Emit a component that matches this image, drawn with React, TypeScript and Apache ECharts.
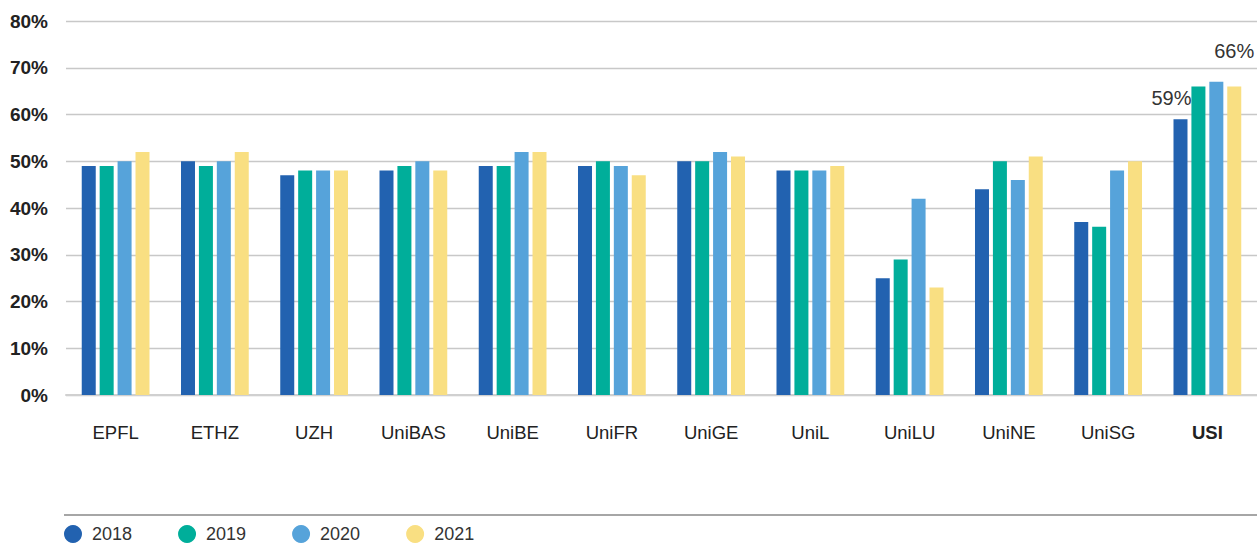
import React, { useEffect, useRef } from "react";
import * as echarts from "echarts";

const categories = ["EPFL", "ETHZ", "UZH", "UniBAS", "UniBE", "UniFR", "UniGE", "UniL", "UniLU", "UniNE", "UniSG", "USI"];
const years = ["2018", "2019", "2020", "2021"];
const v2018 = [49, 50, 47, 48, 49, 49, 50, 48, 25, 44, 37, 59];
const v2019 = [49, 49, 48, 49, 49, 50, 50, 48, 29, 50, 36, 66];
const v2020 = [50, 50, 48, 50, 52, 49, 52, 48, 42, 46, 48, 67];
const v2021 = [52, 52, 48, 48, 52, 47, 51, 49, 23, 51, 50, 66];
const colors = ["#2262b0", "#00ae9a", "#56a3da", "#f9df82"];
const yTicks = [0, 10, 20, 30, 40, 50, 60, 70, 80];

const FONT = "'Liberation Sans', Arial, Helvetica, sans-serif";

export default function App() {
  const ref = useRef<HTMLDivElement>(null);
  useEffect(() => {
    if (!ref.current) return;
    const chart = echarts.init(ref.current, null, { renderer: "svg" });
    const all = [v2018, v2019, v2020, v2021];
    const labelFor = (si: number) => {
      if (si === 0) return { show: true, position: "top", offset: [-9, -6], formatter: "{c}%" };
      if (si === 3) return { show: true, position: "top", offset: [0, -20], formatter: "{c}%" };
      return null;
    };
    const series = years.map((y, si) => ({
      name: y,
      type: "bar",
      barWidth: 14,
      barGap: "28%",
      itemStyle: { color: colors[si] },
      data: all[si].map((v, i) => {
        const lab = i === categories.length - 1 ? labelFor(si) : null;
        return lab
          ? { value: v, label: { ...lab, color: "#333", fontSize: 20, fontFamily: FONT } }
          : { value: v };
      }),
    }));
    chart.setOption({
      animation: false,
      textStyle: { fontFamily: FONT },
      grid: { left: 66, right: 0, top: 21, bottom: 150, containLabel: false },
      legend: {
        data: years,
        left: 64,
        top: 525,
        padding: 0,
        icon: "circle",
        itemWidth: 18,
        itemHeight: 18,
        itemGap: 46,
        textStyle: { fontSize: 18, lineHeight: 18, color: "#333", fontFamily: FONT, padding: [0, 0, 0, 5] },
      },
      xAxis: {
        type: "category",
        data: categories,
        axisTick: { show: false },
        axisLine: { show: true, lineStyle: { color: "#d0d0d0", width: 2 } },
        axisLabel: {
          margin: 28,
          fontSize: 18.5,
          color: "#222",
          fontFamily: FONT,
          formatter: (v: string) => (v === "USI" ? "{b|" + v + "}" : v),
          rich: { b: { fontWeight: "bold", fontSize: 18.5, color: "#222", fontFamily: FONT } },
        },
      },
      yAxis: {
        type: "value",
        min: yTicks[0],
        max: yTicks[yTicks.length - 1],
        interval: 10,
        axisLine: { show: false },
        axisTick: { show: false },
        splitLine: { lineStyle: { color: "#c8c8c8", width: 1.3 } },
        axisLabel: {
          margin: 18,
          fontSize: 19,
          fontWeight: "bold",
          color: "#222",
          fontFamily: FONT,
          formatter: "{value}%",
        },
      },
      graphic: [
        {
          type: "line",
          shape: { x1: 64, y1: 515, x2: 1257, y2: 515 },
          style: { stroke: "#888", lineWidth: 1.5 },
        },
      ],
      series,
    });
    return () => chart.dispose();
  }, []);
  return (
    <div
      ref={ref}
      style={{ position: "fixed", left: 0, top: 0, width: 1257, height: 545, background: "#fff" }}
    />
  );
}
